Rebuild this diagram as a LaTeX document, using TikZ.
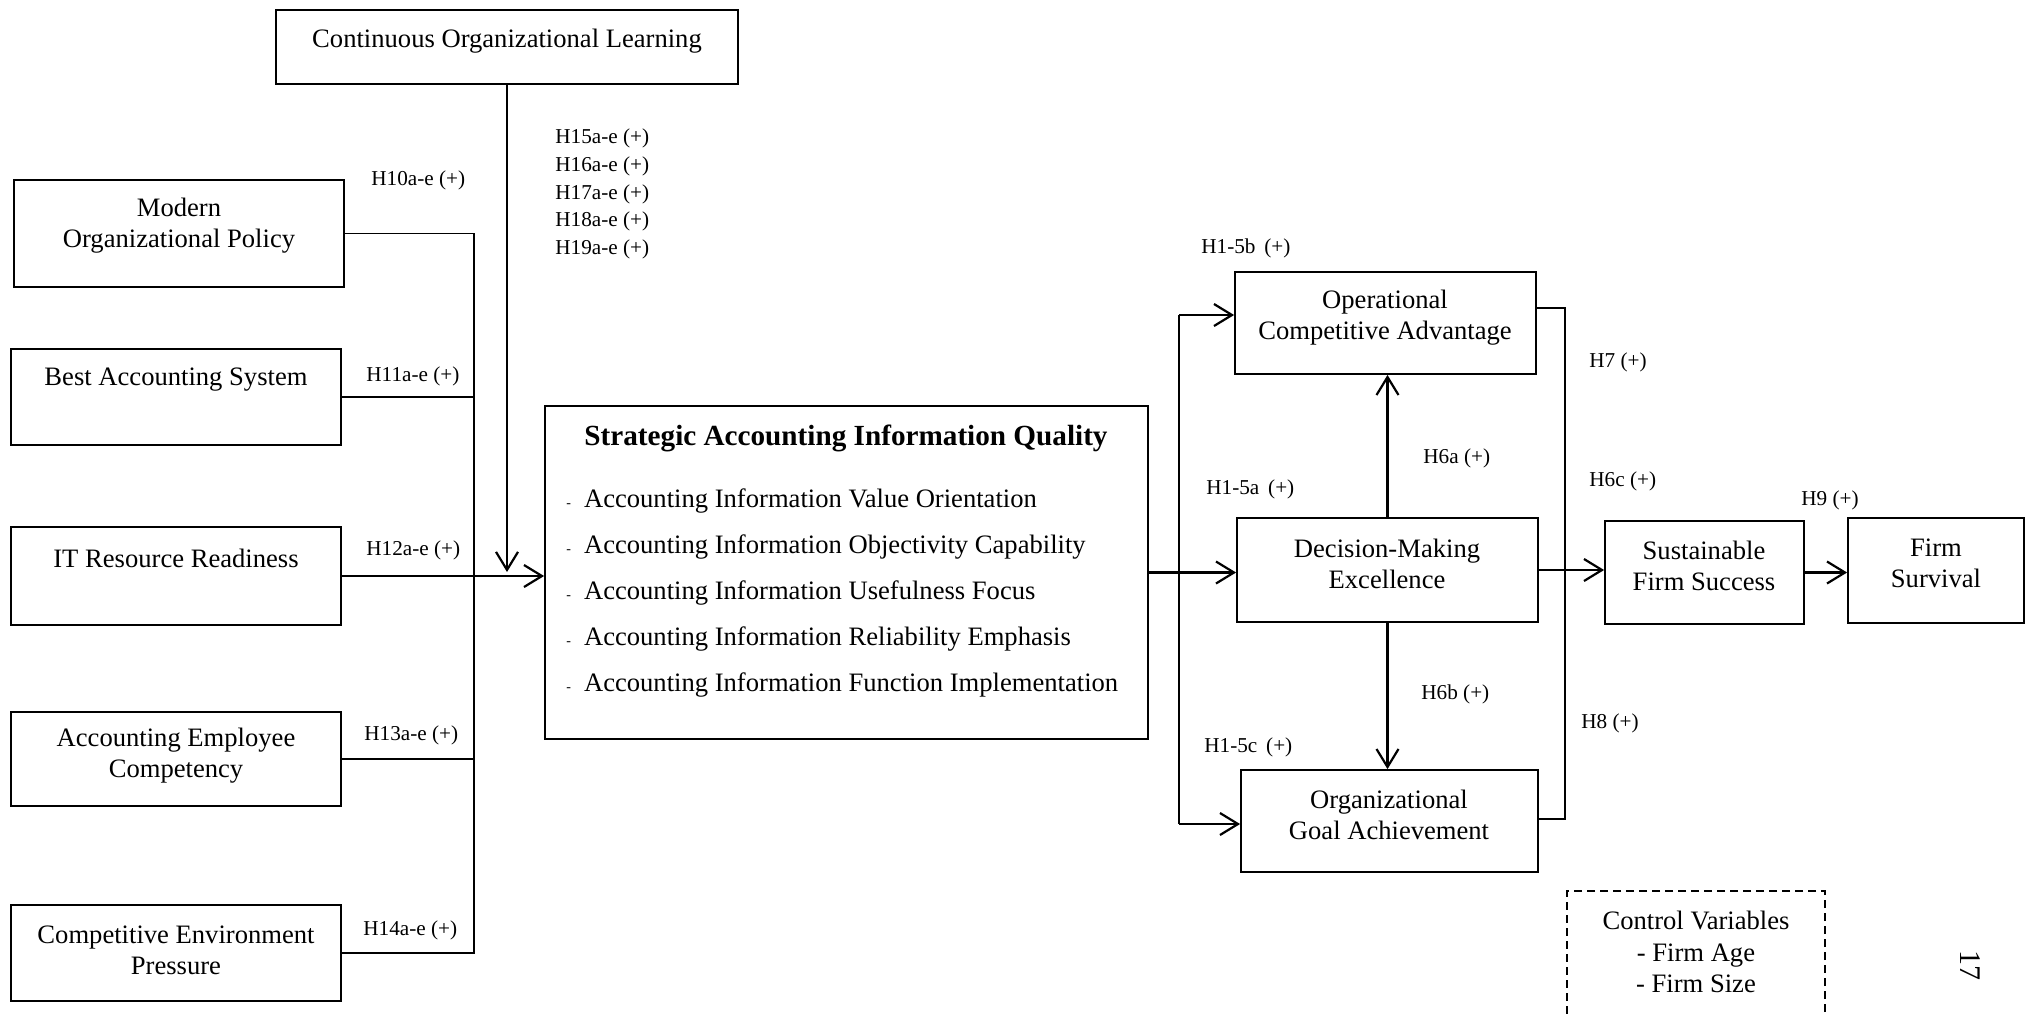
\documentclass[tikz,border=0pt]{standalone}
\usepackage{fontspec}
\setmainfont{Liberation Serif}
\usetikzlibrary{arrows.meta,positioning}

\begin{document}
\begin{tikzpicture}[x=0.5pt, y=-0.5pt,
                box/.style = {draw, line width=0.9pt, inner sep=0pt},
                txt/.style = {align=center, inner sep=0pt, yshift=-1.5pt, font=\fontsize{13.3}{15.6}\selectfont},
                hyp/.style = {anchor=west, inner sep=0pt, yshift=-1pt, font=\fontsize{10.6}{14}\selectfont},
                line/.style = {line width=0.9pt},
                arr/.style = {line width=1.1pt, -{Straight Barb[length=9pt,width=11pt,line width=1.1pt]}}]
            \useasboundingbox (0,0) rectangle (2034,1014);
            \clip (0,0) rectangle (2034,1014);
            % left side
            \node[box, minimum width=231pt, minimum height=37pt] (col) at (507,47) {};
            \node[txt] (colt) at (507,38) {Continuous Organizational Learning};
            \node[box, minimum width=165pt, minimum height=53.5pt] (mop) at (179,233.5) {};
            \node[txt] (mopt) at (179,223) {Modern\\Organizational Policy};
            \node[box, minimum width=165pt, minimum height=48pt] (bas) at (176,397) {};
            \node[txt] (bast) at (176,377) {Best Accounting System};
            \node[box, minimum width=165pt, minimum height=49pt] (itr) at (176,576) {};
            \node[txt] (itrt) at (176,555) {IT Resource Readiness};
            \node[box, minimum width=165pt, minimum height=47pt] (aec) at (176,759) {};
            \node[txt] (aect) at (176,753) {Accounting Employee\\Competency};
            \node[box, minimum width=165pt, minimum height=47.7pt] (cep) at (176,953) {};
            \node[txt] (cept) at (176,947) {Competitive Environment\\Pressure};
            % middle
            \node[box, minimum width=301.5pt, minimum height=166.5pt] (saiq) at (846.5,572.5) {};
            \node[inner sep=0pt, yshift=-1.5pt, font=\bfseries\fontsize{14.6}{17}\selectfont] (saiqt) at (846,435) {Strategic Accounting Information Quality};
            \node[anchor=west, align=left, inner sep=0pt, yshift=-1.5pt, font=\fontsize{13.3}{23}\selectfont] (items) at (566,590) {%
                {\fontsize{7}{7}\selectfont -}\hspace{6.5pt}Accounting Information Value Orientation\\
                {\fontsize{7}{7}\selectfont -}\hspace{6.5pt}Accounting Information Objectivity Capability\\
                {\fontsize{7}{7}\selectfont -}\hspace{6.5pt}Accounting Information Usefulness Focus\\
                {\fontsize{7}{7}\selectfont -}\hspace{6.5pt}Accounting Information Reliability Emphasis\\
                {\fontsize{7}{7}\selectfont -}\hspace{6.5pt}Accounting Information Function Implementation};
            % right side
            \node[box, minimum width=150.5pt, minimum height=51pt] (oca) at (1385.5,323) {};
            \node[txt] (ocat) at (1385,315) {Operational\\Competitive Advantage};
            \node[box, minimum width=150.5pt, minimum height=52pt] (dme) at (1387.5,570) {};
            \node[txt] (dmet) at (1387,561) {Decision-Making\\Excellence};
            \node[box, minimum width=148.5pt, minimum height=51pt] (oga) at (1389.5,821) {};
            \node[txt] (ogat) at (1389,812) {Organizational\\Goal Achievement};
            \node[box, minimum width=99.5pt, minimum height=51.5pt] (sfs) at (1704.5,572.5) {};
            \node[txt] (sfst) at (1704,563) {Sustainable\\Firm Success};
            \node[box, minimum width=88pt, minimum height=52.5pt] (fs) at (1936,570.5) {};
            \node[txt] (fst) at (1936,560) {Firm\\Survival};
            \node[box, dash pattern=on 4pt off 2.5pt, minimum width=129pt, minimum height=74.5pt] (ctrl) at (1696,965.5) {};
            \node[txt, font=\fontsize{13.3}{15.8}\selectfont] (ctrlt) at (1696,949) {Control Variables\\- Firm Age\\- Firm Size};
            \node[rotate=-90, inner sep=0pt, font=\fontsize{15}{15}\selectfont] (pg) at (1970,965) {17};
            % hypothesis labels
            \node[hyp] (h10) at (371,178) {H10a-e (+)};
            \node[hyp] (h11) at (366,374) {H11a-e (+)};
            \node[hyp] (h12) at (366,548) {H12a-e (+)};
            \node[hyp] (h13) at (364,733) {H13a-e (+)};
            \node[hyp] (h14) at (363,928) {H14a-e (+)};
            \node[hyp] (h15) at (555,136) {H15a-e (+)};
            \node[hyp] (h16) at (555,164) {H16a-e (+)};
            \node[hyp] (h17) at (555,192) {H17a-e (+)};
            \node[hyp] (h18) at (555,219) {H18a-e (+)};
            \node[hyp] (h19) at (555,247) {H19a-e (+)};
            \node[hyp] (h15b) at (1201,246) {H1-5b\, (+)};
            \node[hyp] (h15a) at (1206,487) {H1-5a\, (+)};
            \node[hyp] (h15c) at (1204,745) {H1-5c\, (+)};
            \node[hyp] (h6a) at (1423,456) {H6a (+)};
            \node[hyp] (h6b) at (1421,692) {H6b (+)};
            \node[hyp] (h7) at (1589,360) {H7 (+)};
            \node[hyp] (h6c) at (1589,479) {H6c (+)};
            \node[hyp] (h8) at (1581,721) {H8 (+)};
            \node[hyp] (h9) at (1801,498) {H9 (+)};
            % connectors
            \coordinate (lbus) at (474,0);
            \draw[line] (mop.east) -- (mop.east -| lbus) -- (cep.east -| lbus) -- (cep.east);
            \draw[line] (bas.east) -- (bas.east -| lbus);
            \draw[line] (aec.east) -- (aec.east -| lbus);
            \draw[arr] (itr.east) -- (itr.east -| saiq.west);
            \draw[arr] (col.south) -- ([yshift=2pt]col.south |- itr.east);
            \draw[arr] (saiq.east) -- (saiq.east -| dme.west);
            \coordinate (rt) at (1179,315);
            \coordinate (rb) at (1179,824);
            \draw[line] (rt) -- (rb);
            \draw[arr] (rt) -- (rt -| oca.west);
            \draw[arr] (rb) -- (rb -| oga.west);
            \draw[arr] (dme.north) -- (dme.north |- oca.south);
            \draw[arr] (dme.south) -- (dme.south |- oga.north);
            \coordinate (ot) at (1565,308);
            \coordinate (ob) at (1565,819);
            \draw[line] (ot -| oca.east) -- (ot) -- (ob) -- (ob -| oga.east);
            \draw[arr] (dme.east) -- (dme.east -| sfs.west);
            \draw[arr] (sfs.east) -- (sfs.east -| fs.west);
            \end{tikzpicture}
\end{document}
